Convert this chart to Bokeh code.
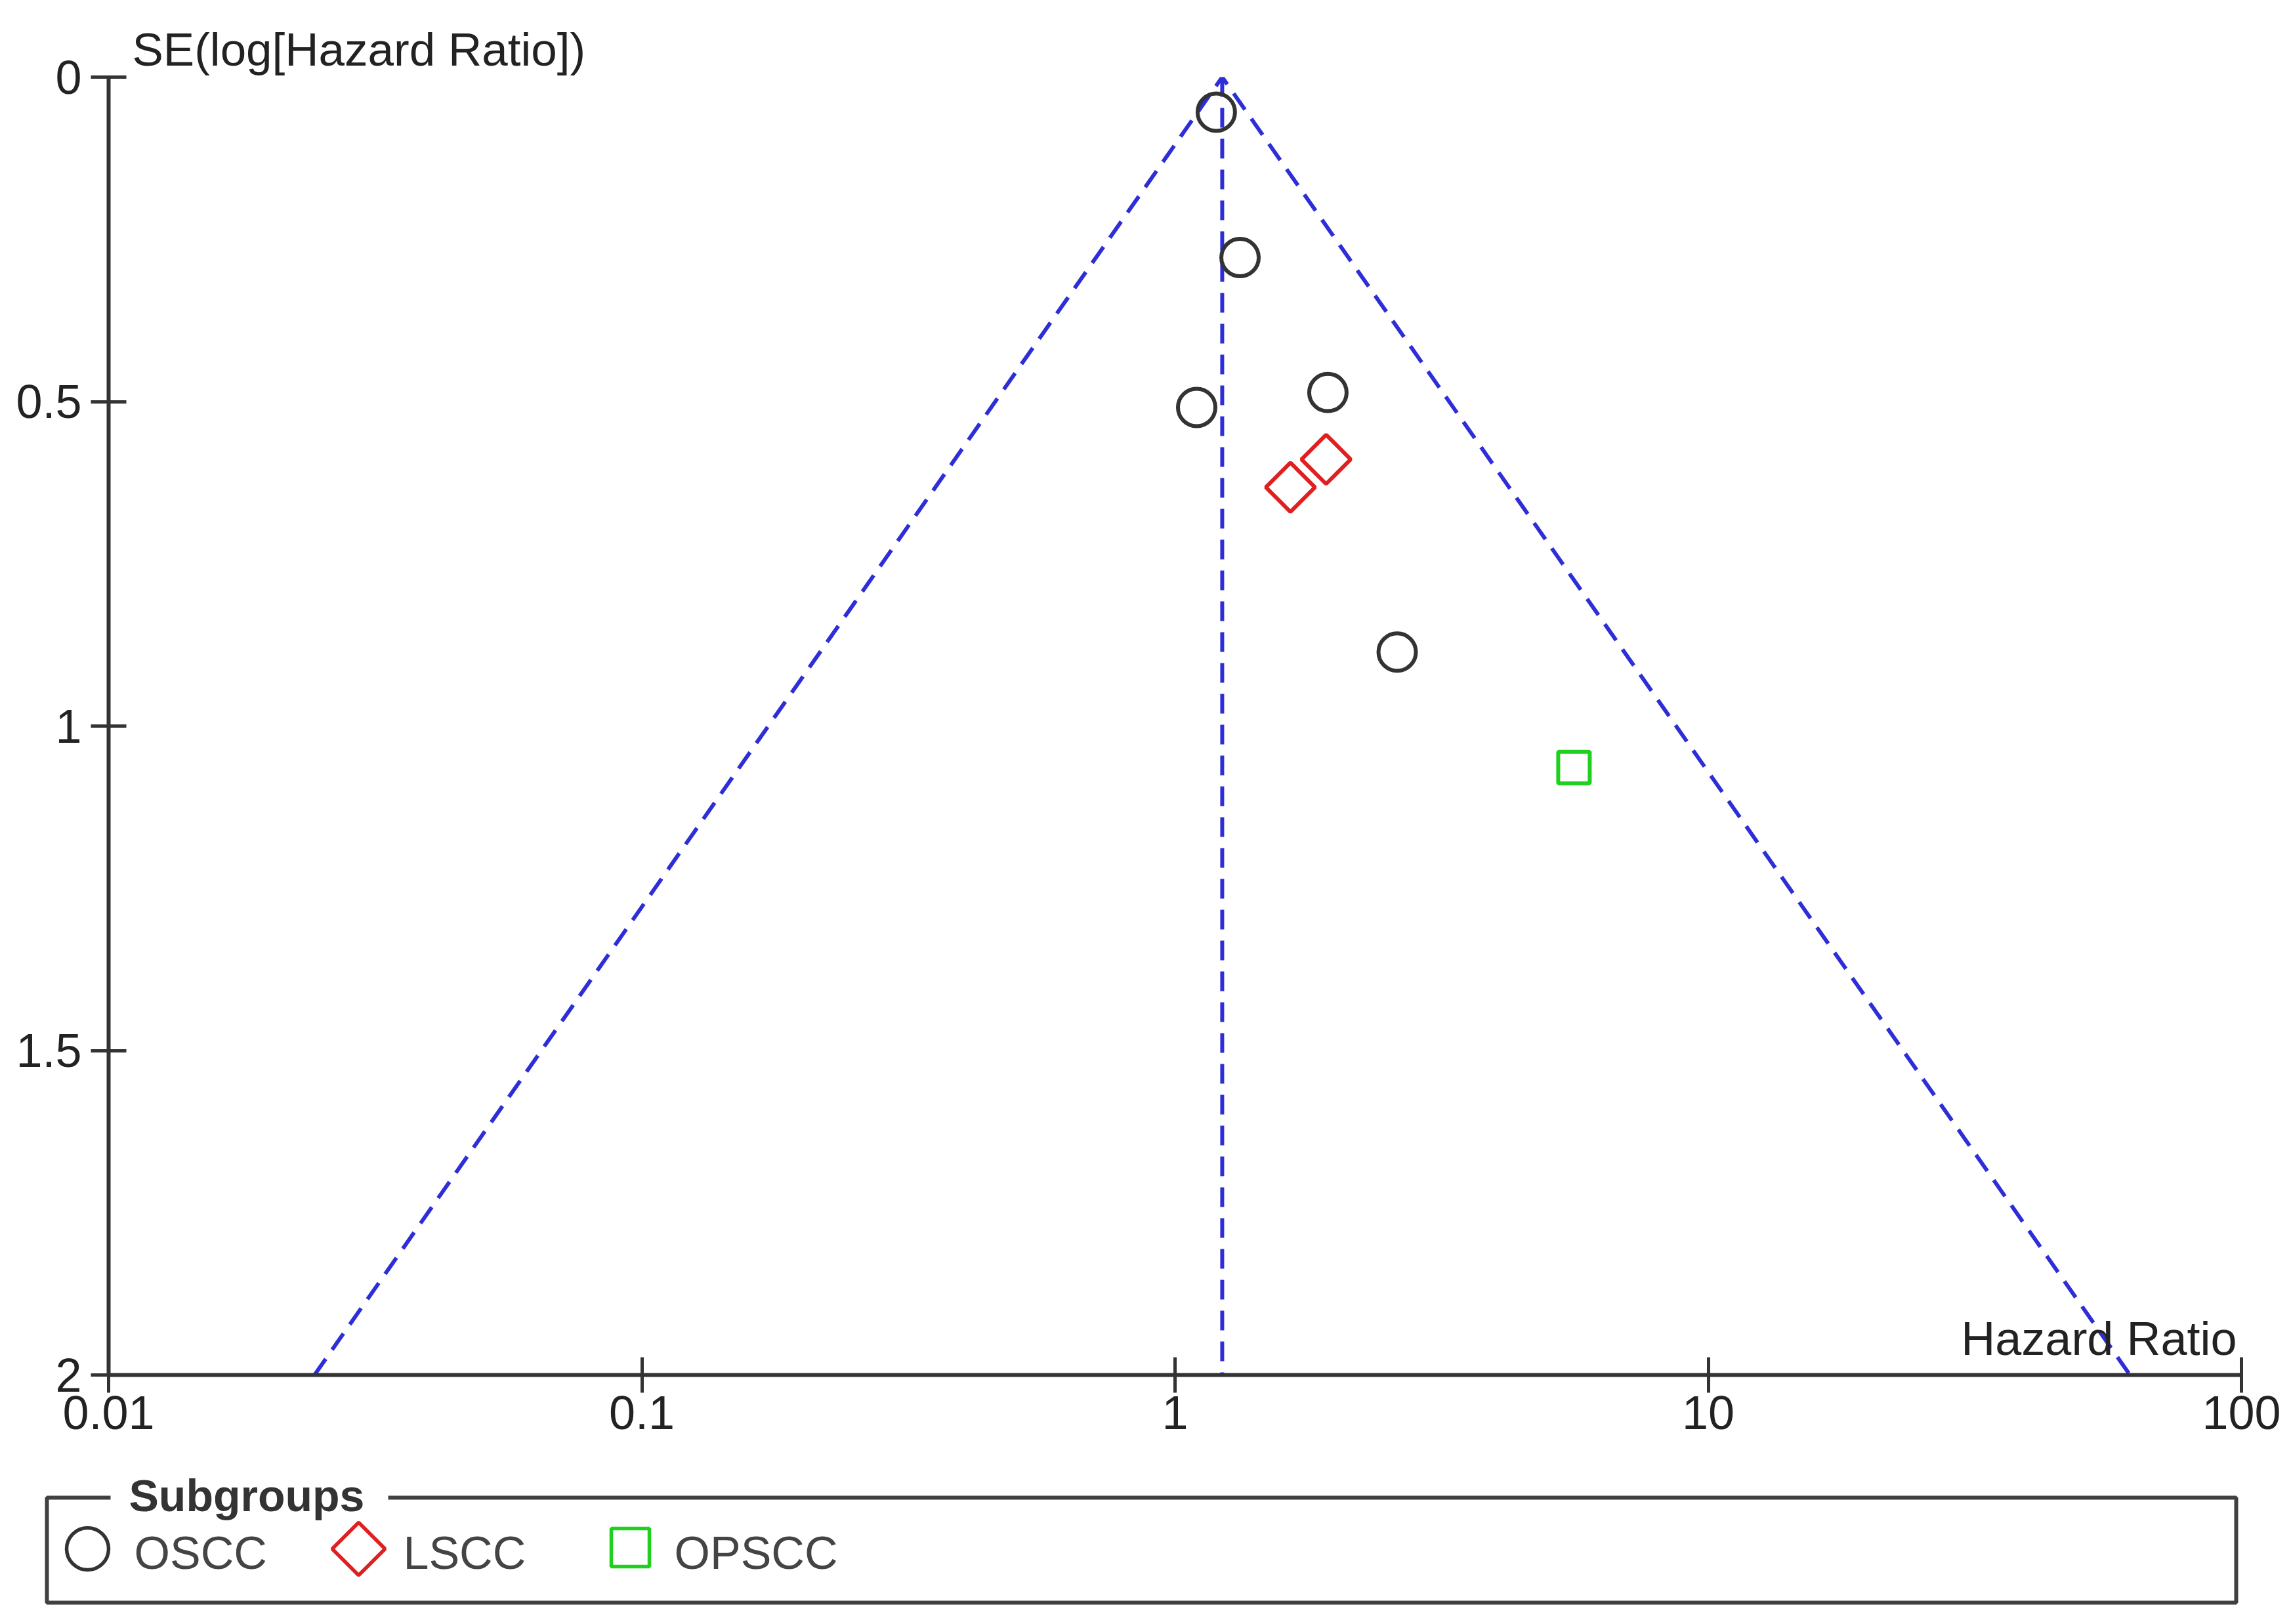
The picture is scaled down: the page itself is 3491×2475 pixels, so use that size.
import numpy as np
from bokeh.plotting import figure
from bokeh.models import Range1d, FixedTicker, Label
from bokeh.embed import file_html
from bokeh.resources import INLINE

# ---------------- data ----------------
oscc_hr = [1.195, 1.324, 1.098, 1.935, 2.61]
oscc_se = [0.054, 0.278, 0.509, 0.486, 0.886]
lscc_hr = [1.646, 1.92]
lscc_se = [0.632, 0.589]
opscc_hr = [5.60]
opscc_se = [1.064]
pooled_hr = 1.226
se_max = 2.0
x_ticks = [0.01, 0.1, 1, 10, 100]
x_tick_labels = ["0.01", "0.1", "1", "10", "100"]
y_ticks = [0, 0.5, 1, 1.5, 2]
y_tick_labels = ["0", "0.5", "1", "1.5", "2"]
legend_names = ["OSCC", "LSCC", "OPSCC"]

FONT = "Liberation Sans"
FS = "72px"
W = 3491
H_MAIN, H_LEG = 2225, 250
FL, FR, FT, FB = 165, 3415, 117, 2095   # frame edges in page pixels
TXT_SHIFT = 24                         # label baseline correction (px)

BLUE = "#2e2ed8"
DARK = "#333333"
RED = "#e02020"
GREEN = "#1fd01f"


def px_x(px):
    return 10 ** (-2 + 4 * (px - FL) / (FR - FL))


def px_y(py):
    return 2 * (py - FT) / (FB - FT)


p = figure(width=W, height=H_MAIN, x_axis_type="log",
           x_range=Range1d(0.01, 100), y_range=Range1d(2, 0),
           output_backend="svg", toolbar_location=None,
           min_border_left=FL, min_border_right=W - FR,
           min_border_top=FT, min_border_bottom=H_MAIN - FB)
p.outline_line_color = None
p.xgrid.grid_line_color = None
p.ygrid.grid_line_color = None
p.background_fill_color = "white"
p.border_fill_color = "white"

p.title.text = "SE(log[Hazard Ratio])"
p.title.align = "left"
p.title.offset = 36
p.title.text_font = FONT
p.title.text_font_size = "71px"
p.title.text_font_style = "normal"
p.title.text_color = "#222222"
p.title.standoff = 5

p.xaxis.ticker = FixedTicker(ticks=x_ticks)
p.xaxis.major_label_overrides = {t: l for t, l in zip(x_ticks, x_tick_labels)}
p.yaxis.ticker = FixedTicker(ticks=y_ticks)
p.yaxis.major_label_overrides = {t: l for t, l in zip(y_ticks, y_tick_labels)}
for ax in (p.xaxis, p.yaxis):
    ax.axis_line_color = DARK
    ax.axis_line_width = 6
    ax.major_tick_line_color = DARK
    ax.major_tick_line_width = 5
    ax.major_tick_in = 27
    ax.major_tick_out = 27
    ax.minor_tick_line_color = None
    ax.major_label_text_font = FONT
    ax.major_label_text_font_size = FS
    ax.major_label_text_color = "#222222"
p.xaxis.major_label_standoff = 5
p.yaxis.major_label_standoff = 14

# funnel
lo = pooled_hr * np.exp(-1.96 * se_max)
hi = pooled_hr * np.exp(1.96 * se_max)
p.line([lo, pooled_hr, hi], [se_max, 0, se_max], line_color=BLUE,
       line_width=6, line_dash="30 17")
p.line([pooled_hr, pooled_hr], [0, se_max], line_color=BLUE,
       line_width=6, line_dash="30 17")

# points
p.scatter(oscc_hr, oscc_se, marker="circle", size=57, fill_color=None,
          line_color=DARK, line_width=6)
p.scatter(lscc_hr, lscc_se, marker="square", angle=np.pi / 4, size=53,
          fill_color=None, line_color=RED, line_width=6)
p.scatter(opscc_hr, opscc_se, marker="square", size=48, fill_color=None,
          line_color=GREEN, line_width=6)

p.add_layout(Label(x=px_x(3408), y=px_y(2063 - TXT_SHIFT),
                   text="Hazard Ratio", text_font=FONT,
                   text_font_size=FS, text_align="right",
                   text_baseline="alphabetic", text_color="#222222"))

# ---------------- legend panel (separate root, page-pixel coordinates) ----
Y0 = H_MAIN
p2 = figure(width=W, height=H_LEG, x_range=Range1d(0, W),
            y_range=Range1d(Y0 + H_LEG, Y0), x_axis_location=None,
            y_axis_location=None, toolbar_location=None,
            output_backend="svg", min_border=0)
p2.outline_line_color = None
p2.xgrid.visible = False
p2.ygrid.visible = False
p2.background_fill_color = "white"
p2.border_fill_color = "white"

BX0, BX1, BY0, BY1 = 71, 3407, 2282, 2442
GAP0, GAP1 = 168, 591
p2.line([GAP0, BX0, BX0, BX1, BX1, GAP1], [BY0, BY0, BY1, BY1, BY0, BY0],
        line_width=6, line_color="#404040")
p2.add_layout(Label(x=196, y=2302 - TXT_SHIFT, text="Subgroups",
                    text_font=FONT, text_font_size="68px",
                    text_font_style="bold", text_baseline="alphabetic",
                    text_color="#333333"))

CY = 2360
p2.scatter([133], [CY], marker="circle", size=64, fill_color=None,
           line_color=DARK, line_width=5.5)
p2.scatter([546], [CY], marker="square", angle=np.pi / 4, size=57,
           fill_color=None, line_color=RED, line_width=5.5)
p2.scatter([960], [CY - 2], marker="square", size=58, fill_color=None,
           line_color=GREEN, line_width=5.5)
for xt, name in zip([204, 614, 1027], legend_names):
    p2.add_layout(Label(x=xt, y=2390 - TXT_SHIFT, text=name, text_font=FONT,
                        text_font_size="70px", text_baseline="alphabetic",
                        text_color="#444444"))

open("out.html", "w").write(file_html([p, p2], INLINE))
